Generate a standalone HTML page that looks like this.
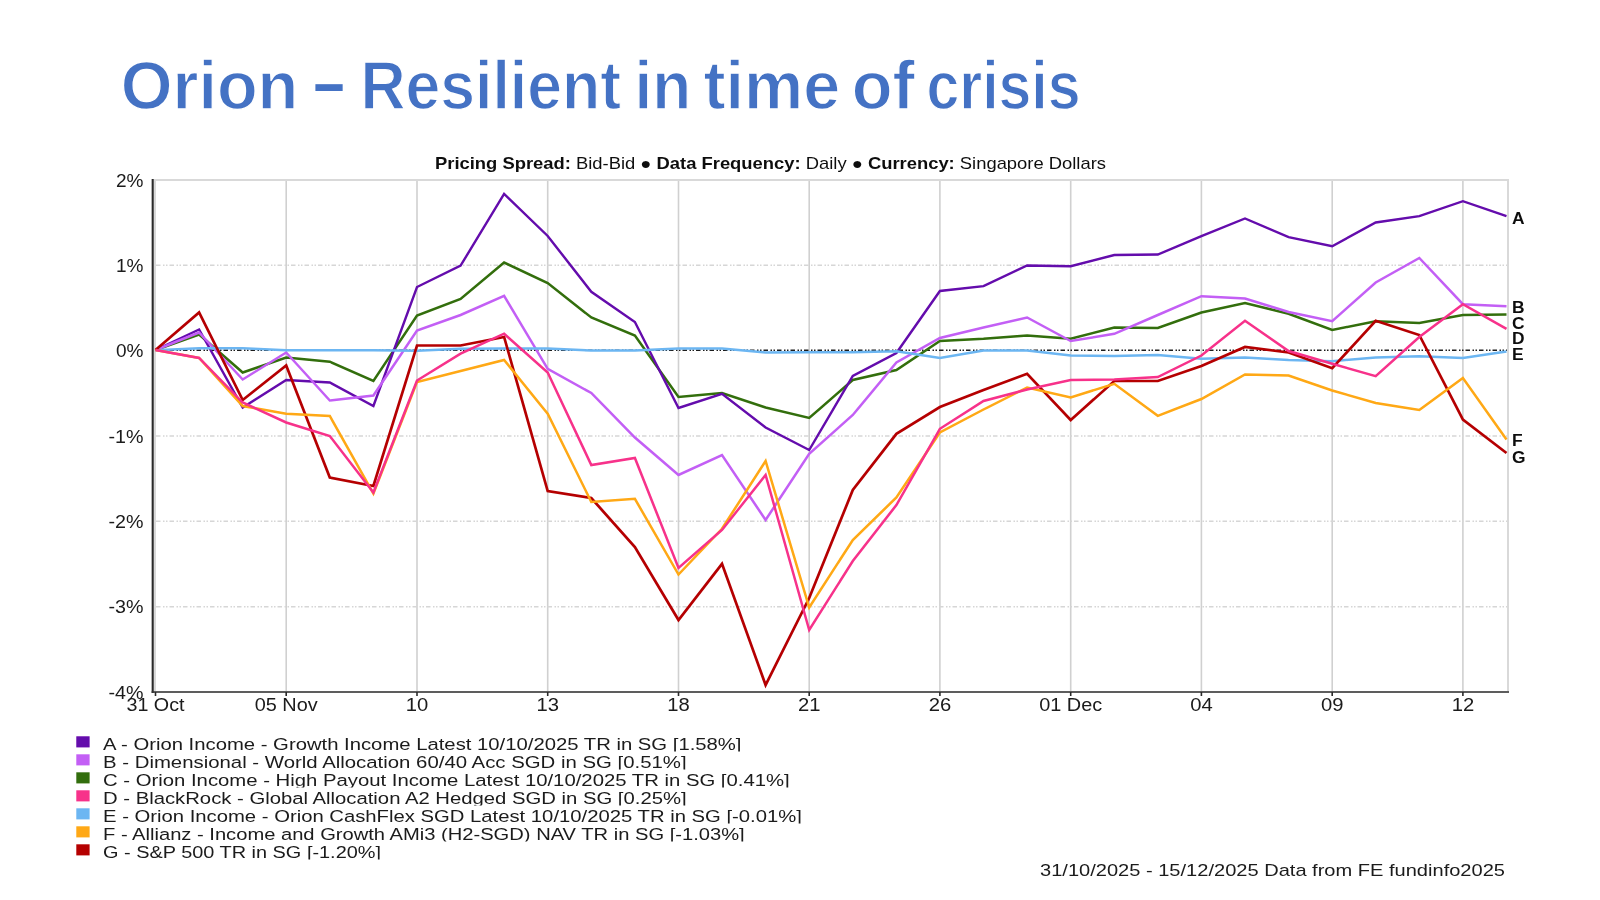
<!DOCTYPE html>
<html><head><meta charset="utf-8"><title>Orion – Resilient in time of crisis</title>
<style>
html,body{margin:0;padding:0;background:#fff;}
body{width:1600px;height:900px;overflow:hidden;position:relative;font-family:"Liberation Sans",Arial,sans-serif;}
svg{position:absolute;left:0;top:0;display:block}
svg text{font-family:"Liberation Sans",Arial,sans-serif;}
</style></head><body>
<svg width="1600" height="900" viewBox="0 0 1600 900">
<defs><filter id="soft" x="0" y="0" width="1600" height="900" filterUnits="userSpaceOnUse"><feGaussianBlur stdDeviation="0.45"/></filter></defs>
<g filter="url(#soft)">
<rect x="155" y="180" width="1353" height="512" fill="#fff" stroke="#d9d9d9" stroke-width="2"/>
<line x1="286.2" y1="181" x2="286.2" y2="691" stroke="#d0d0d0" stroke-width="1.6"/>
<line x1="417.0" y1="181" x2="417.0" y2="691" stroke="#d0d0d0" stroke-width="1.6"/>
<line x1="547.7" y1="181" x2="547.7" y2="691" stroke="#d0d0d0" stroke-width="1.6"/>
<line x1="678.5" y1="181" x2="678.5" y2="691" stroke="#d0d0d0" stroke-width="1.6"/>
<line x1="809.2" y1="181" x2="809.2" y2="691" stroke="#d0d0d0" stroke-width="1.6"/>
<line x1="939.9" y1="181" x2="939.9" y2="691" stroke="#d0d0d0" stroke-width="1.6"/>
<line x1="1070.7" y1="181" x2="1070.7" y2="691" stroke="#d0d0d0" stroke-width="1.6"/>
<line x1="1201.4" y1="181" x2="1201.4" y2="691" stroke="#d0d0d0" stroke-width="1.6"/>
<line x1="1332.2" y1="181" x2="1332.2" y2="691" stroke="#d0d0d0" stroke-width="1.6"/>
<line x1="1462.9" y1="181" x2="1462.9" y2="691" stroke="#d0d0d0" stroke-width="1.6"/>
<line x1="156" y1="265.3" x2="1507" y2="265.3" stroke="#d6d6d6" stroke-width="1.5" stroke-dasharray="4.5 2.5 1.5 1.5 1.5 2"/>
<line x1="156" y1="436.0" x2="1507" y2="436.0" stroke="#d6d6d6" stroke-width="1.5" stroke-dasharray="4.5 2.5 1.5 1.5 1.5 2"/>
<line x1="156" y1="521.3" x2="1507" y2="521.3" stroke="#d6d6d6" stroke-width="1.5" stroke-dasharray="4.5 2.5 1.5 1.5 1.5 2"/>
<line x1="156" y1="606.7" x2="1507" y2="606.7" stroke="#d6d6d6" stroke-width="1.5" stroke-dasharray="4.5 2.5 1.5 1.5 1.5 2"/>
<line x1="156" y1="350.3" x2="1507" y2="350.3" stroke="#1c1c1c" stroke-width="1.6" stroke-dasharray="4.5 2.5 1.5 1.5 1.5 2"/>
<polyline points="155.5,350.0 199.1,334.5 242.7,372.5 286.2,357.5 329.8,361.7 373.4,381.0 417.0,315.5 460.6,299.0 504.1,262.5 547.7,283.0 591.3,317.5 634.9,335.5 678.5,397.0 722.0,393.0 765.6,407.5 809.2,418.0 852.8,380.0 896.4,370.0 939.9,341.0 983.5,338.8 1027.1,335.5 1070.7,338.8 1114.3,327.5 1157.8,328.0 1201.4,312.5 1245.0,303.0 1288.6,313.8 1332.2,330.0 1375.7,321.2 1419.3,323.0 1462.9,315.0 1506.5,314.5" fill="none" stroke="#336e0a" stroke-width="2.5" stroke-linejoin="miter" stroke-linecap="butt"/>
<polyline points="155.5,350.0 199.1,329.5 242.7,407.5 286.2,380.0 329.8,382.5 373.4,406.0 417.0,287.0 460.6,265.5 504.1,193.8 547.7,236.0 591.3,291.8 634.9,322.0 678.5,408.0 722.0,393.8 765.6,427.5 809.2,450.0 852.8,376.0 896.4,353.0 939.9,291.0 983.5,286.2 1027.1,265.5 1070.7,266.2 1114.3,255.0 1157.8,254.5 1201.4,236.2 1245.0,218.5 1288.6,237.2 1332.2,246.2 1375.7,222.5 1419.3,216.2 1462.9,201.2 1506.5,216.2" fill="none" stroke="#6408ac" stroke-width="2.4" stroke-linejoin="miter" stroke-linecap="butt"/>
<polyline points="155.5,350.0 199.1,332.5 242.7,379.5 286.2,352.5 329.8,400.5 373.4,395.5 417.0,330.5 460.6,315.0 504.1,295.8 547.7,368.8 591.3,393.0 634.9,437.5 678.5,475.0 722.0,455.0 765.6,520.0 809.2,453.8 852.8,415.0 896.4,362.5 939.9,338.0 983.5,327.5 1027.1,317.5 1070.7,341.0 1114.3,333.8 1157.8,315.0 1201.4,296.2 1245.0,298.5 1288.6,312.0 1332.2,321.2 1375.7,282.5 1419.3,258.0 1462.9,304.2 1506.5,306.2" fill="none" stroke="#c35ff5" stroke-width="2.5" stroke-linejoin="miter" stroke-linecap="butt"/>
<polyline points="155.5,350.3 199.1,348.3 242.7,348.3 286.2,350.2 329.8,350.3 373.4,350.3 417.0,350.8 460.6,348.8 504.1,348.4 547.7,348.4 591.3,350.5 634.9,350.5 678.5,348.6 722.0,348.6 765.6,352.5 809.2,352.3 852.8,352.3 896.4,351.3 939.9,358.0 983.5,350.4 1027.1,350.4 1070.7,355.5 1114.3,356.0 1157.8,355.0 1201.4,358.8 1245.0,357.5 1288.6,360.0 1332.2,361.2 1375.7,357.5 1419.3,356.2 1462.9,358.0 1506.5,351.5" fill="none" stroke="#6cb6f2" stroke-width="2.5" stroke-linejoin="miter" stroke-linecap="butt"/>
<polyline points="155.5,350.0 199.1,312.5 242.7,400.0 286.2,365.5 329.8,477.5 373.4,486.0 417.0,345.5 460.6,345.5 504.1,337.0 547.7,491.0 591.3,498.0 634.9,547.0 678.5,620.0 722.0,563.8 765.6,685.0 809.2,598.0 852.8,490.0 896.4,433.8 939.9,407.0 983.5,390.0 1027.1,373.8 1070.7,420.0 1114.3,381.0 1157.8,381.0 1201.4,366.0 1245.0,347.0 1288.6,352.5 1332.2,368.2 1375.7,320.8 1419.3,335.0 1462.9,419.5 1506.5,453.0" fill="none" stroke="#b50005" stroke-width="2.7" stroke-linejoin="miter" stroke-linecap="butt"/>
<polyline points="155.5,350.0 199.1,358.0 242.7,406.0 286.2,413.7 329.8,416.0 373.4,493.7 417.0,382.0 460.6,371.0 504.1,360.0 547.7,413.8 591.3,502.0 634.9,498.8 678.5,574.5 722.0,528.8 765.6,461.0 809.2,607.5 852.8,540.0 896.4,497.5 939.9,432.5 983.5,409.5 1027.1,387.5 1070.7,397.5 1114.3,383.8 1157.8,415.8 1201.4,399.0 1245.0,374.5 1288.6,375.5 1332.2,390.5 1375.7,403.0 1419.3,410.0 1462.9,378.0 1506.5,439.5" fill="none" stroke="#ffa812" stroke-width="2.5" stroke-linejoin="miter" stroke-linecap="butt"/>
<polyline points="155.5,350.0 199.1,358.0 242.7,402.5 286.2,422.5 329.8,436.0 373.4,492.5 417.0,380.5 460.6,353.7 504.1,333.7 547.7,372.5 591.3,465.0 634.9,458.0 678.5,568.0 722.0,530.0 765.6,475.0 809.2,630.0 852.8,561.0 896.4,505.0 939.9,428.8 983.5,401.0 1027.1,389.5 1070.7,380.0 1114.3,379.5 1157.8,377.0 1201.4,355.5 1245.0,320.8 1288.6,351.0 1332.2,363.8 1375.7,376.2 1419.3,337.0 1462.9,304.2 1506.5,328.8" fill="none" stroke="#f7308a" stroke-width="2.5" stroke-linejoin="miter" stroke-linecap="butt"/>
<line x1="152.7" y1="179" x2="152.7" y2="693" stroke="#2a2a2a" stroke-width="2.1"/>
<line x1="151.6" y1="692" x2="1509" y2="692" stroke="#333" stroke-width="1.7"/>
<line x1="155.5" y1="692" x2="155.5" y2="696" stroke="#2a2a2a" stroke-width="1.6"/>
<line x1="286.2" y1="692" x2="286.2" y2="696" stroke="#2a2a2a" stroke-width="1.6"/>
<line x1="417.0" y1="692" x2="417.0" y2="696" stroke="#2a2a2a" stroke-width="1.6"/>
<line x1="547.7" y1="692" x2="547.7" y2="696" stroke="#2a2a2a" stroke-width="1.6"/>
<line x1="678.5" y1="692" x2="678.5" y2="696" stroke="#2a2a2a" stroke-width="1.6"/>
<line x1="809.2" y1="692" x2="809.2" y2="696" stroke="#2a2a2a" stroke-width="1.6"/>
<line x1="939.9" y1="692" x2="939.9" y2="696" stroke="#2a2a2a" stroke-width="1.6"/>
<line x1="1070.7" y1="692" x2="1070.7" y2="696" stroke="#2a2a2a" stroke-width="1.6"/>
<line x1="1201.4" y1="692" x2="1201.4" y2="696" stroke="#2a2a2a" stroke-width="1.6"/>
<line x1="1332.2" y1="692" x2="1332.2" y2="696" stroke="#2a2a2a" stroke-width="1.6"/>
<line x1="1462.9" y1="692" x2="1462.9" y2="696" stroke="#2a2a2a" stroke-width="1.6"/>
<text x="143.5" y="186.6" font-size="17.5" text-anchor="end" font-weight="normal" fill="#1a1a1a" textLength="27.5" lengthAdjust="spacingAndGlyphs">2%</text>
<text x="143.5" y="271.93333333333334" font-size="17.5" text-anchor="end" font-weight="normal" fill="#1a1a1a" textLength="27.5" lengthAdjust="spacingAndGlyphs">1%</text>
<text x="143.5" y="357.26666666666665" font-size="17.5" text-anchor="end" font-weight="normal" fill="#1a1a1a" textLength="27.5" lengthAdjust="spacingAndGlyphs">0%</text>
<text x="143.5" y="442.6" font-size="17.5" text-anchor="end" font-weight="normal" fill="#1a1a1a" textLength="35" lengthAdjust="spacingAndGlyphs">-1%</text>
<text x="143.5" y="527.9333333333333" font-size="17.5" text-anchor="end" font-weight="normal" fill="#1a1a1a" textLength="35" lengthAdjust="spacingAndGlyphs">-2%</text>
<text x="143.5" y="613.2666666666667" font-size="17.5" text-anchor="end" font-weight="normal" fill="#1a1a1a" textLength="35" lengthAdjust="spacingAndGlyphs">-3%</text>
<text x="143.5" y="698.6" font-size="17.5" text-anchor="end" font-weight="normal" fill="#1a1a1a" textLength="35" lengthAdjust="spacingAndGlyphs">-4%</text>
<text x="155.5" y="711" font-size="17.5" text-anchor="middle" font-weight="normal" fill="#1a1a1a" textLength="58" lengthAdjust="spacingAndGlyphs">31 Oct</text>
<text x="286.2" y="711" font-size="17.5" text-anchor="middle" font-weight="normal" fill="#1a1a1a" textLength="63" lengthAdjust="spacingAndGlyphs">05 Nov</text>
<text x="417.0" y="711" font-size="17.5" text-anchor="middle" font-weight="normal" fill="#1a1a1a" textLength="22.5" lengthAdjust="spacingAndGlyphs">10</text>
<text x="547.7" y="711" font-size="17.5" text-anchor="middle" font-weight="normal" fill="#1a1a1a" textLength="22.5" lengthAdjust="spacingAndGlyphs">13</text>
<text x="678.5" y="711" font-size="17.5" text-anchor="middle" font-weight="normal" fill="#1a1a1a" textLength="22.5" lengthAdjust="spacingAndGlyphs">18</text>
<text x="809.2" y="711" font-size="17.5" text-anchor="middle" font-weight="normal" fill="#1a1a1a" textLength="22.5" lengthAdjust="spacingAndGlyphs">21</text>
<text x="939.9" y="711" font-size="17.5" text-anchor="middle" font-weight="normal" fill="#1a1a1a" textLength="22.5" lengthAdjust="spacingAndGlyphs">26</text>
<text x="1070.7" y="711" font-size="17.5" text-anchor="middle" font-weight="normal" fill="#1a1a1a" textLength="63" lengthAdjust="spacingAndGlyphs">01 Dec</text>
<text x="1201.4" y="711" font-size="17.5" text-anchor="middle" font-weight="normal" fill="#1a1a1a" textLength="22.5" lengthAdjust="spacingAndGlyphs">04</text>
<text x="1332.2" y="711" font-size="17.5" text-anchor="middle" font-weight="normal" fill="#1a1a1a" textLength="22.5" lengthAdjust="spacingAndGlyphs">09</text>
<text x="1462.9" y="711" font-size="17.5" text-anchor="middle" font-weight="normal" fill="#1a1a1a" textLength="22.5" lengthAdjust="spacingAndGlyphs">12</text>
<text x="1512" y="223.7" font-size="17.4" text-anchor="start" font-weight="bold" fill="#111">A</text>
<text x="1512" y="313" font-size="17.4" text-anchor="start" font-weight="bold" fill="#111">B</text>
<text x="1512" y="328.7" font-size="17.4" text-anchor="start" font-weight="bold" fill="#111">C</text>
<text x="1512" y="343.7" font-size="17.4" text-anchor="start" font-weight="bold" fill="#111">D</text>
<text x="1512" y="359.5" font-size="17.4" text-anchor="start" font-weight="bold" fill="#111">E</text>
<text x="1512" y="446.2" font-size="17.4" text-anchor="start" font-weight="bold" fill="#111">F</text>
<text x="1512" y="462.5" font-size="17.4" text-anchor="start" font-weight="bold" fill="#111">G</text>
<text x="435" y="168.6" font-size="15.9" fill="#111" textLength="671" lengthAdjust="spacingAndGlyphs"><tspan font-weight="bold">Pricing Spread:</tspan> Bid-Bid ● <tspan font-weight="bold">Data Frequency:</tspan> Daily ● <tspan font-weight="bold">Currency:</tspan> Singapore Dollars</text>
<rect x="76.3" y="736.3" width="13.3" height="11.1" fill="#6408ac"/>
<clipPath id="cA"><rect x="95" y="735" width="760" height="16.6"/></clipPath>
<text x="103" y="749.6" font-size="16.9" text-anchor="start" font-weight="normal" fill="#1a1a1a" textLength="638.5" lengthAdjust="spacingAndGlyphs" clip-path="url(#cA)">A - Orion Income - Growth Income Latest 10/10/2025 TR in SG [1.58%]</text>
<rect x="76.3" y="754.3" width="13.3" height="11.1" fill="#c35ff5"/>
<clipPath id="cB"><rect x="95" y="753" width="760" height="16.6"/></clipPath>
<text x="103" y="767.6" font-size="16.9" text-anchor="start" font-weight="normal" fill="#1a1a1a" textLength="583.6" lengthAdjust="spacingAndGlyphs" clip-path="url(#cB)">B - Dimensional - World Allocation 60/40 Acc SGD in SG [0.51%]</text>
<rect x="76.3" y="772.3" width="13.3" height="11.1" fill="#336e0a"/>
<clipPath id="cC"><rect x="95" y="771" width="760" height="16.6"/></clipPath>
<text x="103" y="785.6" font-size="16.9" text-anchor="start" font-weight="normal" fill="#1a1a1a" textLength="686.7" lengthAdjust="spacingAndGlyphs" clip-path="url(#cC)">C - Orion Income - High Payout Income Latest 10/10/2025 TR in SG [0.41%]</text>
<rect x="76.3" y="790.3" width="13.3" height="11.1" fill="#f7308a"/>
<clipPath id="cD"><rect x="95" y="789" width="760" height="16.6"/></clipPath>
<text x="103" y="803.6" font-size="16.9" text-anchor="start" font-weight="normal" fill="#1a1a1a" textLength="583.6" lengthAdjust="spacingAndGlyphs" clip-path="url(#cD)">D - BlackRock - Global Allocation A2 Hedged SGD in SG [0.25%]</text>
<rect x="76.3" y="808.3" width="13.3" height="11.1" fill="#6cb6f2"/>
<clipPath id="cE"><rect x="95" y="807" width="760" height="16.6"/></clipPath>
<text x="103" y="821.6" font-size="16.9" text-anchor="start" font-weight="normal" fill="#1a1a1a" textLength="698.9" lengthAdjust="spacingAndGlyphs" clip-path="url(#cE)">E - Orion Income - Orion CashFlex SGD Latest 10/10/2025 TR in SG [-0.01%]</text>
<rect x="76.3" y="826.3" width="13.3" height="11.1" fill="#ffa812"/>
<clipPath id="cF"><rect x="95" y="825" width="760" height="16.6"/></clipPath>
<text x="103" y="839.6" font-size="16.9" text-anchor="start" font-weight="normal" fill="#1a1a1a" textLength="641.7" lengthAdjust="spacingAndGlyphs" clip-path="url(#cF)">F - Allianz - Income and Growth AMi3 (H2-SGD) NAV TR in SG [-1.03%]</text>
<rect x="76.3" y="844.3" width="13.3" height="11.1" fill="#b50005"/>
<clipPath id="cG"><rect x="95" y="843" width="760" height="16.6"/></clipPath>
<text x="103" y="857.6" font-size="16.9" text-anchor="start" font-weight="normal" fill="#1a1a1a" textLength="278" lengthAdjust="spacingAndGlyphs" clip-path="url(#cG)">G - S&amp;P 500 TR in SG [-1.20%]</text>
<text x="1040" y="875.8" font-size="17" text-anchor="start" font-weight="normal" fill="#1a1a1a" textLength="465" lengthAdjust="spacingAndGlyphs">31/10/2025 - 15/12/2025 Data from FE fundinfo2025</text>
</g>
<text x="120.81" y="109" font-size="68.6" font-weight="bold" fill="#4472c4" stroke="#ffffff" stroke-width="1.3" textLength="177.47" lengthAdjust="spacingAndGlyphs">Orion</text>
<text x="313.79" y="105.8" font-size="68.6" font-weight="bold" fill="#4472c4" textLength="30.58" lengthAdjust="spacingAndGlyphs">–</text>
<text x="360.39" y="109" font-size="68.6" font-weight="bold" fill="#4472c4" stroke="#ffffff" stroke-width="1.3" textLength="260.63" lengthAdjust="spacingAndGlyphs">Resilient</text>
<text x="634.53" y="109" font-size="68.6" font-weight="bold" fill="#4472c4" stroke="#ffffff" stroke-width="1.3" textLength="56.63" lengthAdjust="spacingAndGlyphs">in</text>
<text x="703.44" y="109" font-size="68.6" font-weight="bold" fill="#4472c4" stroke="#ffffff" stroke-width="1.3" textLength="136.68" lengthAdjust="spacingAndGlyphs">time</text>
<text x="851.78" y="109" font-size="68.6" font-weight="bold" fill="#4472c4" stroke="#ffffff" stroke-width="1.3" textLength="63.03" lengthAdjust="spacingAndGlyphs">of</text>
<text x="926.39" y="109" font-size="68.6" font-weight="bold" fill="#4472c4" stroke="#ffffff" stroke-width="1.3" textLength="154.22" lengthAdjust="spacingAndGlyphs">crisis</text>
</svg>
</body></html>
